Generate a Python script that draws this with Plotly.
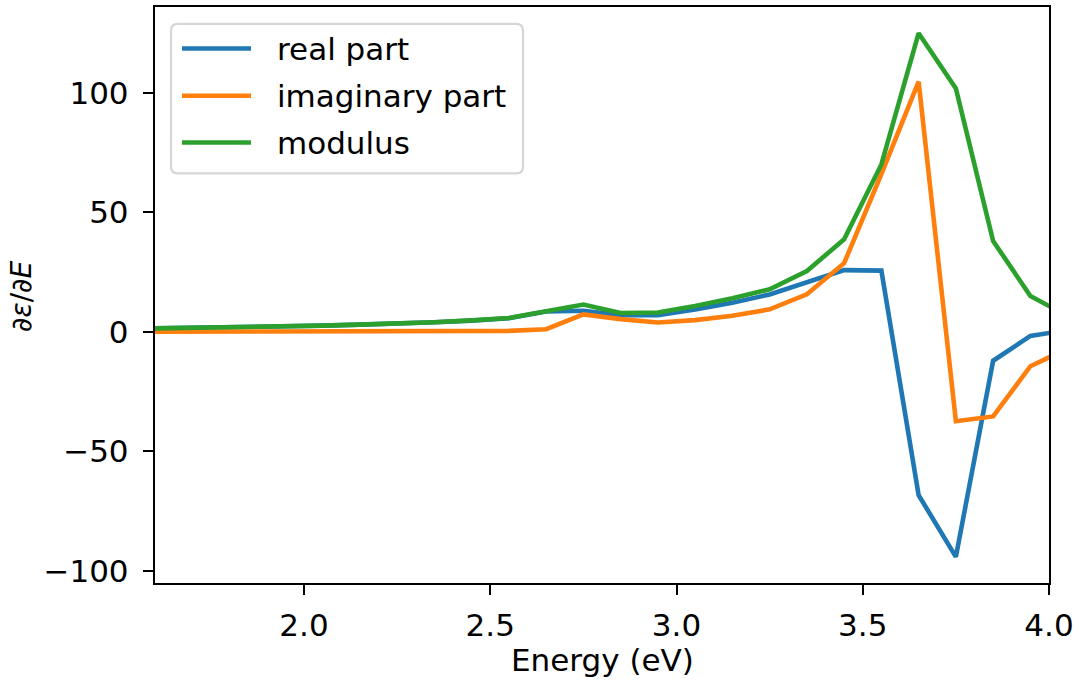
import plotly.graph_objects as go

# Photon energy grid (eV)
energy = [1.55, 1.65, 1.75, 1.85, 1.95, 2.05, 2.15, 2.25, 2.35, 2.45,
          2.55, 2.65, 2.75, 2.85, 2.95, 3.05, 3.15, 3.25, 3.35, 3.45,
          3.55, 3.65, 3.75, 3.85, 3.95, 4.05]

# Derivative of the dielectric function with respect to energy
real_part = [1.3, 1.5, 1.7, 2.0, 2.3, 2.6, 3.0, 3.4, 4.0, 4.7,
             5.7, 8.5, 8.8, 7.0, 7.0, 9.3, 12.2, 15.6, 20.5, 25.8,
             25.6, -68.3, -94.1, -12.1, -1.7, 0.7]
imag_part = [0.0, 0.0, 0.0, 0.0, 0.0, 0.05, 0.1, 0.1, 0.15, 0.2,
             0.4, 1.1, 7.3, 5.3, 3.9, 4.9, 6.7, 9.4, 15.7, 28.7,
             66.0, 104.6, -37.4, -35.4, -14.4, -7.0]
modulus = [1.3, 1.5, 1.7, 2.0, 2.3, 2.6, 3.0, 3.4, 4.0, 4.8,
           5.8, 8.6, 11.4, 7.9, 8.1, 10.8, 14.0, 17.8, 25.4, 38.7,
           70.0, 124.9, 101.8, 38.0, 15.0, 6.6]

series_names = ["real part", "imaginary part", "modulus"]
series_colors = ["#1f77b4", "#ff7f0e", "#2ca02c"]
x_ticks = [2.0, 2.5, 3.0, 3.5, 4.0]
y_ticks = [-100, -50, 0, 50, 100]

FONT = "DejaVu Sans"
FS = 31
W, H = 1079, 683
L, R, T, B = 155, 1049, 5, 583


def px_x(x):
    return (x - L) / (R - L)


def px_y(y):
    return (B - y) / (B - T)


fig = go.Figure()
for name, ys, col in zip(series_names, [real_part, imag_part, modulus], series_colors):
    fig.add_trace(go.Scatter(x=energy, y=ys, mode="lines", name=name,
                             line=dict(color=col, width=4.6), showlegend=False))

axis_common = dict(
    showline=True, linecolor="black", linewidth=2.4, mirror=True,
    ticks="outside", ticklen=10, tickwidth=2.4, tickcolor="black",
    showgrid=False, zeroline=False,
    tickfont=dict(family=FONT, size=FS, color="black"),
)

fig.update_layout(
    width=W, height=H,
    margin=dict(l=L, r=W - R, t=T, b=H - B),
    paper_bgcolor="white", plot_bgcolor="white",
    xaxis=dict(range=[1.6, 4.0], tickvals=x_ticks, tickformat=".1f",
               ticklabelstandoff=4, **axis_common),
    yaxis=dict(range=[-105.05, 135.85], tickvals=y_ticks,
               ticklabelstandoff=8, **axis_common),
)

# Axis titles
fig.add_annotation(xref="paper", yref="paper", x=px_x(602), y=px_y(660),
                   text="Energy (eV)", showarrow=False, xanchor="center", yanchor="middle",
                   font=dict(family=FONT, size=FS, color="black"))
fig.add_annotation(xref="paper", yref="paper", x=px_x(22), y=px_y(295),
                   text="∂<i>ε</i>/∂<i>E</i>", showarrow=False, textangle=-90,
                   xanchor="center", yanchor="middle",
                   font=dict(family=FONT, size=28, color="black"))

# Legend box with rounded corners
bx0, bx1, by0, by1, rad = 171, 523, 22, 172, 7
rx, ry = rad / (R - L), rad / (B - T)
x0, x1 = px_x(bx0), px_x(bx1)
yt, yb = px_y(by0), px_y(by1)
path = (f"M {x0 + rx},{yt} L {x1 - rx},{yt} Q {x1},{yt} {x1},{yt - ry} "
        f"L {x1},{yb + ry} Q {x1},{yb} {x1 - rx},{yb} "
        f"L {x0 + rx},{yb} Q {x0},{yb} {x0},{yb + ry} "
        f"L {x0},{yt - ry} Q {x0},{yt} {x0 + rx},{yt} Z")
fig.add_shape(type="path", path=path, xref="paper", yref="paper",
              fillcolor="rgba(255,255,255,0.8)", line=dict(color="#d6d6d6", width=2.2))

row_y = [46.7, 94.0, 141.0]
for name, col, ry_px in zip(series_names, series_colors, row_y):
    fig.add_shape(type="line", xref="paper", yref="paper",
                  x0=px_x(182), x1=px_x(251), y0=px_y(ry_px), y1=px_y(ry_px),
                  line=dict(color=col, width=4.6))
    fig.add_annotation(xref="paper", yref="paper", x=px_x(275), y=px_y(ry_px),
                       text=name, showarrow=False, xanchor="left", yanchor="middle",
                       font=dict(family=FONT, size=FS, color="black"))

fig.write_html("out.html")
